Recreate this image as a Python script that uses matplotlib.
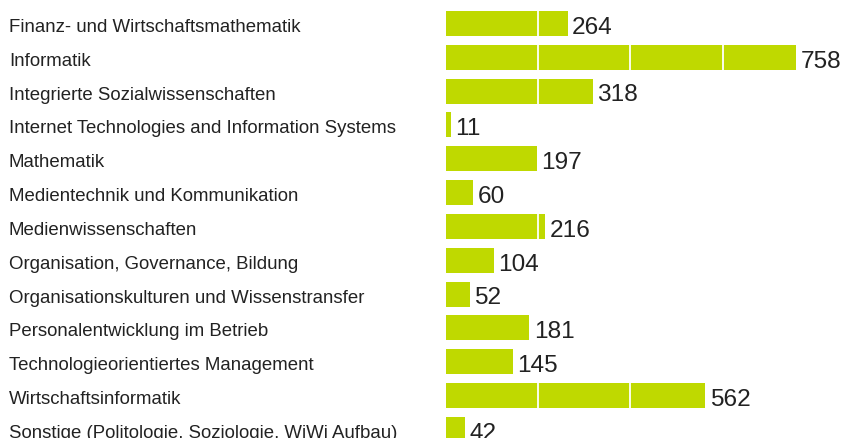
import matplotlib.pyplot as plt
from matplotlib.transforms import blended_transform_factory

categories = [
    "Finanz- und Wirtschaftsmathematik",
    "Informatik",
    "Integrierte Sozialwissenschaften",
    "Internet Technologies and Information Systems",
    "Mathematik",
    "Medientechnik und Kommunikation",
    "Medienwissenschaften",
    "Organisation, Governance, Bildung",
    "Organisationskulturen und Wissenstransfer",
    "Personalentwicklung im Betrieb",
    "Technologieorientiertes Management",
    "Wirtschaftsinformatik",
    "Sonstige (Politologie, Soziologie, WiWi Aufbau)",
]
values = [264, 758, 318, 11, 197, 60, 216, 104, 52, 181, 145, 562, 42]
grid_ticks = [200, 400, 600]

plt.rcParams['font.family'] = ['Liberation Sans', 'DejaVu Sans']

W, H = 848, 439
fig = plt.figure(figsize=(W / 100, H / 100), dpi=100)

# bars start at x=445.5 px, 0.4624 px per unit, rows 33.83 px apart
x0 = 445.5
scale = 0.4624
pitch = 33.83
first = 24.4
ax = fig.add_axes([x0 / W, 0, 1 - x0 / W, 1])
ax.set_xlim(0, (W - x0) / scale)
ax.set_ylim((H - first) / pitch, -first / pitch)

pos = list(range(len(categories)))
ax.barh(pos, values, height=0.74, color='#bfd900', zorder=1)

ax.set_xticks(grid_ticks)
ax.xaxis.grid(True, color='white', lw=1.3)
ax.set_axisbelow(False)
ax.tick_params(length=0, labelbottom=False, labelleft=False)
ax.set_yticks([])
for s in ax.spines.values():
    s.set_visible(False)

for p, v in zip(pos, values):
    ax.text(v + 4.5 / scale, p + 0.1, str(v), va='center', ha='left',
            fontsize=17.6, color='#222222', zorder=3)

tr = blended_transform_factory(fig.transFigure, ax.transData)
for p, c in zip(pos, categories):
    ax.text(9 / W, p + 0.09, c, transform=tr, va='center', ha='left',
            fontsize=13.4, color='#222222', clip_on=False)

fig.savefig('out.png', dpi=100)
